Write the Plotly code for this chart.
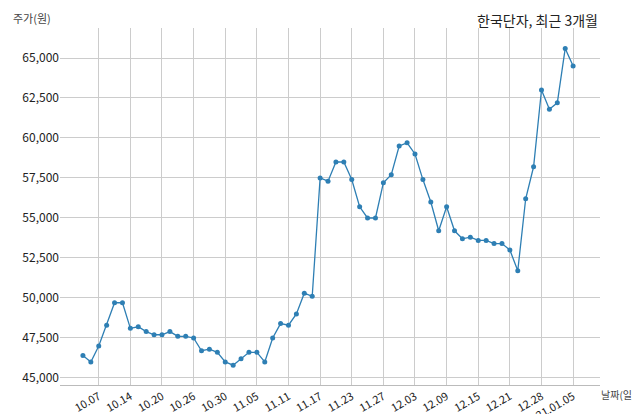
import plotly.graph_objects as go

dates = ["10.05","10.06","10.07","10.08","10.12","10.13","10.14","10.15","10.16","10.19","10.20",
         "10.21","10.22","10.23","10.26","10.27","10.28","10.29","10.30","11.02","11.03","11.04","11.05",
         "11.06","11.09","11.10","11.11","11.12","11.13","11.16","11.17","11.18","11.19","11.20","11.23",
         "11.24","11.25","11.26","11.27","11.30","12.01","12.02","12.03","12.04","12.07","12.08","12.09",
         "12.10","12.11","12.14","12.15","12.16","12.17","12.18","12.21","12.22","12.23","12.24","12.28",
         "12.29","12.30","21.01.04","21.01.05"]
prices = [46400,46000,47000,48300,49700,49700,48100,48200,47900,47700,47700,
          47900,47600,47600,47500,46700,46800,46600,46000,45800,46200,46600,46600,
          46000,47500,48400,48300,49000,50300,50100,57500,57300,58500,58500,57400,
          55700,55000,55000,57200,57700,59500,59700,59000,57400,56000,54200,55700,
          54200,53700,53800,53600,53600,53400,53400,53000,51700,56200,58200,63000,
          61800,62200,65600,64500]
tick_labels = ["10.07","10.14","10.20","10.26","10.30","11.05","11.11","11.17","11.23",
               "11.27","12.03","12.09","12.15","12.21","12.28","21.01.05"]
yticks = [45000,47500,50000,52500,55000,57500,60000,62500,65000]

xs = list(range(len(dates)))
tickpos = [dates.index(t) for t in tick_labels]

fig = go.Figure()
fig.add_trace(go.Scatter(x=xs, y=prices, mode="lines+markers", text=dates,
                         line=dict(color="#2e7fb4", width=1.3),
                         marker=dict(color="#2e7fb4", size=5)))
fig.update_layout(
    width=640, height=414, showlegend=False,
    plot_bgcolor="white", paper_bgcolor="white",
    margin=dict(l=52, r=48, t=20, b=37, autoexpand=False),
    font=dict(family="Noto Sans CJK KR", size=11, color="#222"),
    xaxis=dict(range=[-2.9, 65.4], tickvals=tickpos, ticktext=tick_labels, tickangle=-30,
               showgrid=True, gridcolor="#cccccc", gridwidth=1, zeroline=False, automargin=False,
               showline=True, linecolor="#bbbbbb", ticks="", tickfont=dict(size=11)),
    yaxis=dict(range=[44560, 66875], tickvals=yticks, tickformat=",d", automargin=False,
               showgrid=True, gridcolor="#cccccc", gridwidth=1, zeroline=False,
               showline=False, ticks="", tickfont=dict(size=12)),
    annotations=[
        dict(text="주가(원)", xref="paper", yref="paper", x=-0.09, y=1.0, xanchor="left",
             yanchor="bottom", showarrow=False, font=dict(size=11, color="#444")),
        dict(text="한국단자, 최근 3개월", xref="paper", yref="paper", x=1.0, y=1.0, xanchor="right",
             yanchor="bottom", showarrow=False, yshift=-4, font=dict(size=14, color="#222")),
        dict(text="날짜(일)", xref="paper", yref="paper", x=1.0, y=0.0, xanchor="left",
             yanchor="top", showarrow=False, xshift=-1, font=dict(size=10, color="#444")),
    ],
)
fig.write_html("out.html")
